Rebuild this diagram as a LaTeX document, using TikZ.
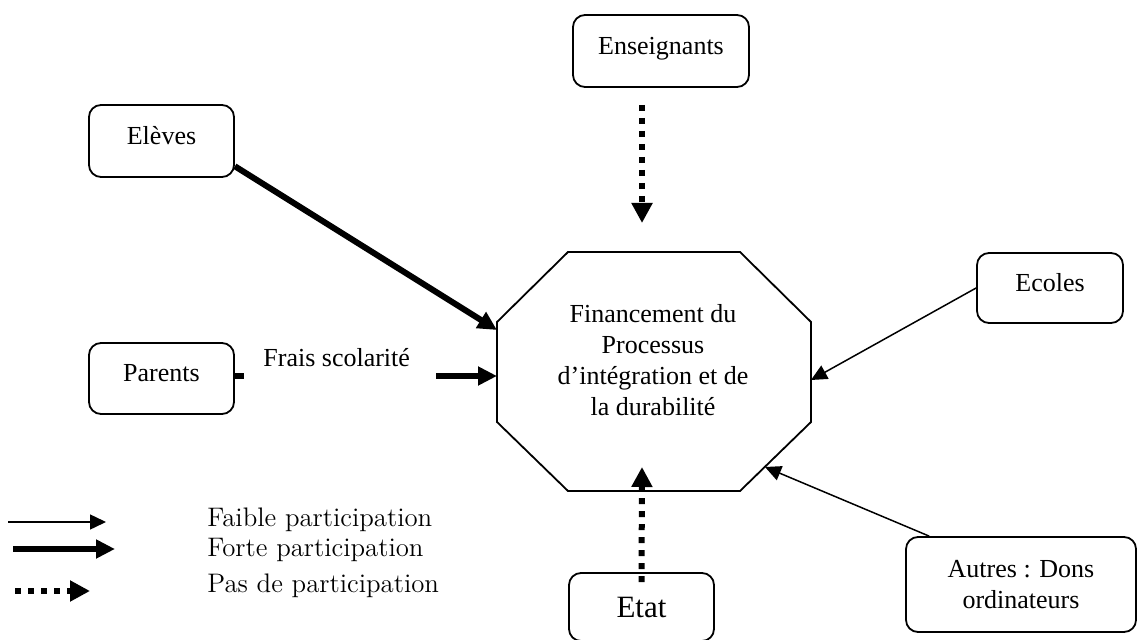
\documentclass[tikz,border=0pt]{standalone}
\usepackage{fontspec}
\newfontfamily\boxfont{Liberation Serif}
\usetikzlibrary{positioning,arrows.meta}

\tikzset{
  actor/.style={draw, line width=0.9pt, rounded corners=6pt, align=center,
    inner sep=0pt, font=\boxfont\fontsize{13}{15.5}\selectfont},
  topalign/.style={text height=9pt, text depth=5.5pt},
  faible/.style={line width=0.75pt, -{Triangle[length=8pt,width=7.5pt]}},
  forte/.style={line width=3pt, -{Triangle[length=9.5pt,width=9pt]}},
  aucune/.style={line width=3pt, dash pattern=on 3pt off 3.5pt,
    -{Triangle[length=10pt,width=10pt]}},
  legtext/.style={anchor=west, inner sep=0pt, font=\fontsize{13.4}{15}\selectfont}
}

\begin{document}
\begin{tikzpicture}[x=0.5pt,y=-0.5pt]
  \useasboundingbox (0,0) rectangle (1138,640);
  % actors
  \node[actor, topalign, minimum width=88pt, minimum height=36pt] (ens) at (661,51) {Enseignants};
  \node[actor, topalign, minimum width=72.5pt, minimum height=36pt] (eleves) at (161.5,141) {Elèves};
  \node[actor, topalign, minimum width=72.5pt, minimum height=35.5pt] (parents) at (161.5,378.5) {Parents};
  \node[actor, topalign, minimum width=73pt, minimum height=35pt] (ecoles) at (1050,288) {Ecoles};
  \node[actor, minimum width=115pt, minimum height=47.5pt] (autres) at (1021,584.5) {Autres : Dons\\ordinateurs};
  \node[actor, minimum width=72.5pt, minimum height=34pt,
        font=\boxfont\fontsize{15.5}{18}\selectfont] (etat) at (641.5,607) {Etat};
  % octagon
  \draw[line width=0.9pt] (568,252) -- (740,252) -- (811,322) -- (811,422)
     -- (740,491) -- (568,491) -- (497,422) -- (497,322) -- cycle;
  \node[align=center, inner sep=0pt, font=\boxfont\fontsize{13}{15.5}\selectfont] (fin) at (653,360)
     {Financement du\\Processus\\d’intégration et de\\la durabilité};
  \coordinate (tipEleves) at (497,330);
  \coordinate (tipParents) at (497,376);
  \coordinate (tipEcoles) at (811,380);
  \coordinate (tipAutres) at (765,467);
  \coordinate (tipEtat) at (642,467);
  \coordinate (ensFrom) at (642,105);
  \coordinate (tipEns) at (642,223);
  % connectors
  \draw[forte] (eleves.-19.5) -- (tipEleves);
  \coordinate (stub) at (244,376);
  \coordinate (fraisFrom) at (436,376);
  \draw[line width=3pt] (parents.east |- stub) -- (stub);
  \node[anchor=west, inner sep=0pt, font=\boxfont\fontsize{13}{15.5}\selectfont] (frais) at (263,358) {Frais scolarité};
  \draw[forte] (fraisFrom) -- (tipParents);
  \draw[aucune] (ensFrom) -- (tipEns);
  \draw[aucune] ([yshift=-5pt]etat.north) -- (tipEtat);
  \draw[faible] (ecoles.west) -- (tipEcoles);
  \draw[faible] ([xshift=12pt]autres.north west) -- (tipAutres);
  % legend
  \foreach \i/\xa/\xb/\y/\ty/\sty/\txt in {
     1/8/106/522/520/faible/Faible participation,
     2/13/115/549/550/forte/Forte participation,
     3/15/90/591/586/aucune/Pas de participation} {
    \coordinate (leg\i a) at (\xa,\y);
    \coordinate (leg\i b) at (\xb,\y);
    \draw[\sty] (leg\i a) -- (leg\i b);
    \node[legtext] (legtxt\i) at (207,\ty) {\txt};
  }
\end{tikzpicture}
\end{document}
